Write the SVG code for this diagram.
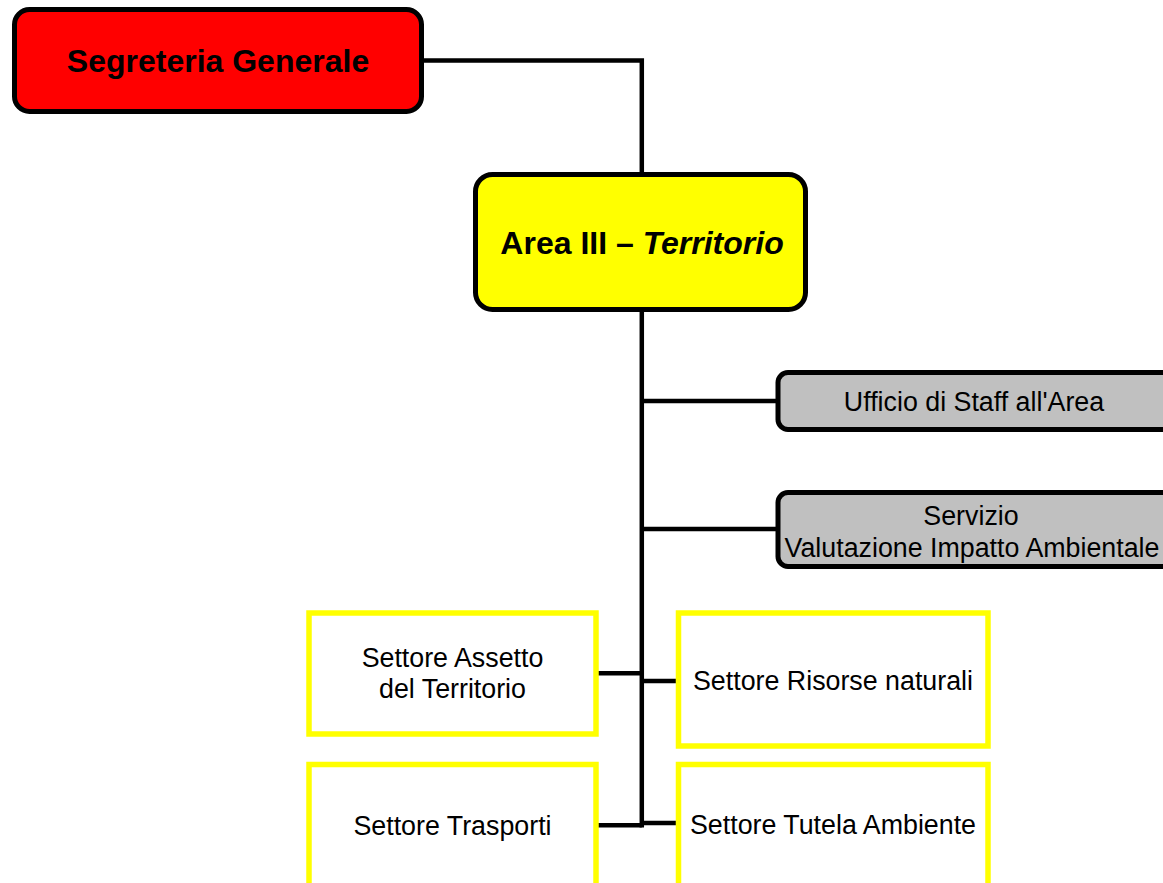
<svg xmlns="http://www.w3.org/2000/svg" width="1163" height="883" viewBox="0 0 1163 883">
<style>
.box{stroke:#000;stroke-width:5}
.red{fill:#FF0000}
.yel{fill:#FFFF00}
.gray{fill:#C0C0C0}
.sett{fill:#FFFFFF;stroke:#FFFF00;stroke-width:5.5}
.conn{fill:none;stroke:#000;stroke-width:4.5}
text{font-family:"Liberation Sans",Arial,sans-serif;fill:#000;text-anchor:middle}
.big{font-size:32px;font-weight:bold}
.reg{font-size:26.8px}
</style>
<rect width="1163" height="883" fill="#FFFFFF"/>
<g id="connectors">
<path class="conn" d="M421.5 60.5 H641.8 V174"/>
<path class="conn" d="M641.8 309.5 V827.5"/>
<path class="conn" d="M641.8 401 H778"/>
<path class="conn" d="M641.8 529 H778"/>
<path class="conn" d="M596 673.3 H641.8"/>
<path class="conn" d="M641.8 681 H678.5"/>
<path class="conn" d="M596 825.2 H641.8"/>
<path class="conn" d="M641.8 823 H678.5"/>
</g>
<g id="segreteria">
<rect class="box red" x="14.5" y="9.5" width="407" height="102" rx="15"/>
<text class="big" x="218" y="72">Segreteria Generale</text>
</g>
<g id="area">
<rect class="box yel" x="475.5" y="174.5" width="330" height="135" rx="17"/>
<text class="big" x="642" y="254">Area III – <tspan font-style="italic">Territorio</tspan></text>
</g>
<g id="ufficio">
<rect class="box gray" x="778" y="372.5" width="400" height="57" rx="10"/>
<text class="reg" x="974" y="411">Ufficio di Staff all'Area</text>
</g>
<g id="servizio">
<rect class="box gray" x="778" y="492.5" width="400" height="74" rx="10"/>
<text class="reg" x="971" y="525">Servizio</text>
<text class="reg" x="972" y="557">Valutazione Impatto Ambientale</text>
</g>
<g id="assetto">
<rect class="sett" x="309" y="613" width="287" height="121"/>
<text class="reg" x="452.5" y="667">Settore Assetto</text>
<text class="reg" x="452.5" y="698">del Territorio</text>
</g>
<g id="risorse">
<rect class="sett" x="678.5" y="613" width="309.5" height="133"/>
<text class="reg" x="833" y="690">Settore Risorse naturali</text>
</g>
<g id="trasporti">
<rect class="sett" x="309" y="764.5" width="287" height="130"/>
<text class="reg" x="452.5" y="835">Settore Trasporti</text>
</g>
<g id="tutela">
<rect class="sett" x="678.5" y="764.5" width="309.5" height="130"/>
<text class="reg" x="833" y="834">Settore Tutela Ambiente</text>
</g>
</svg>
